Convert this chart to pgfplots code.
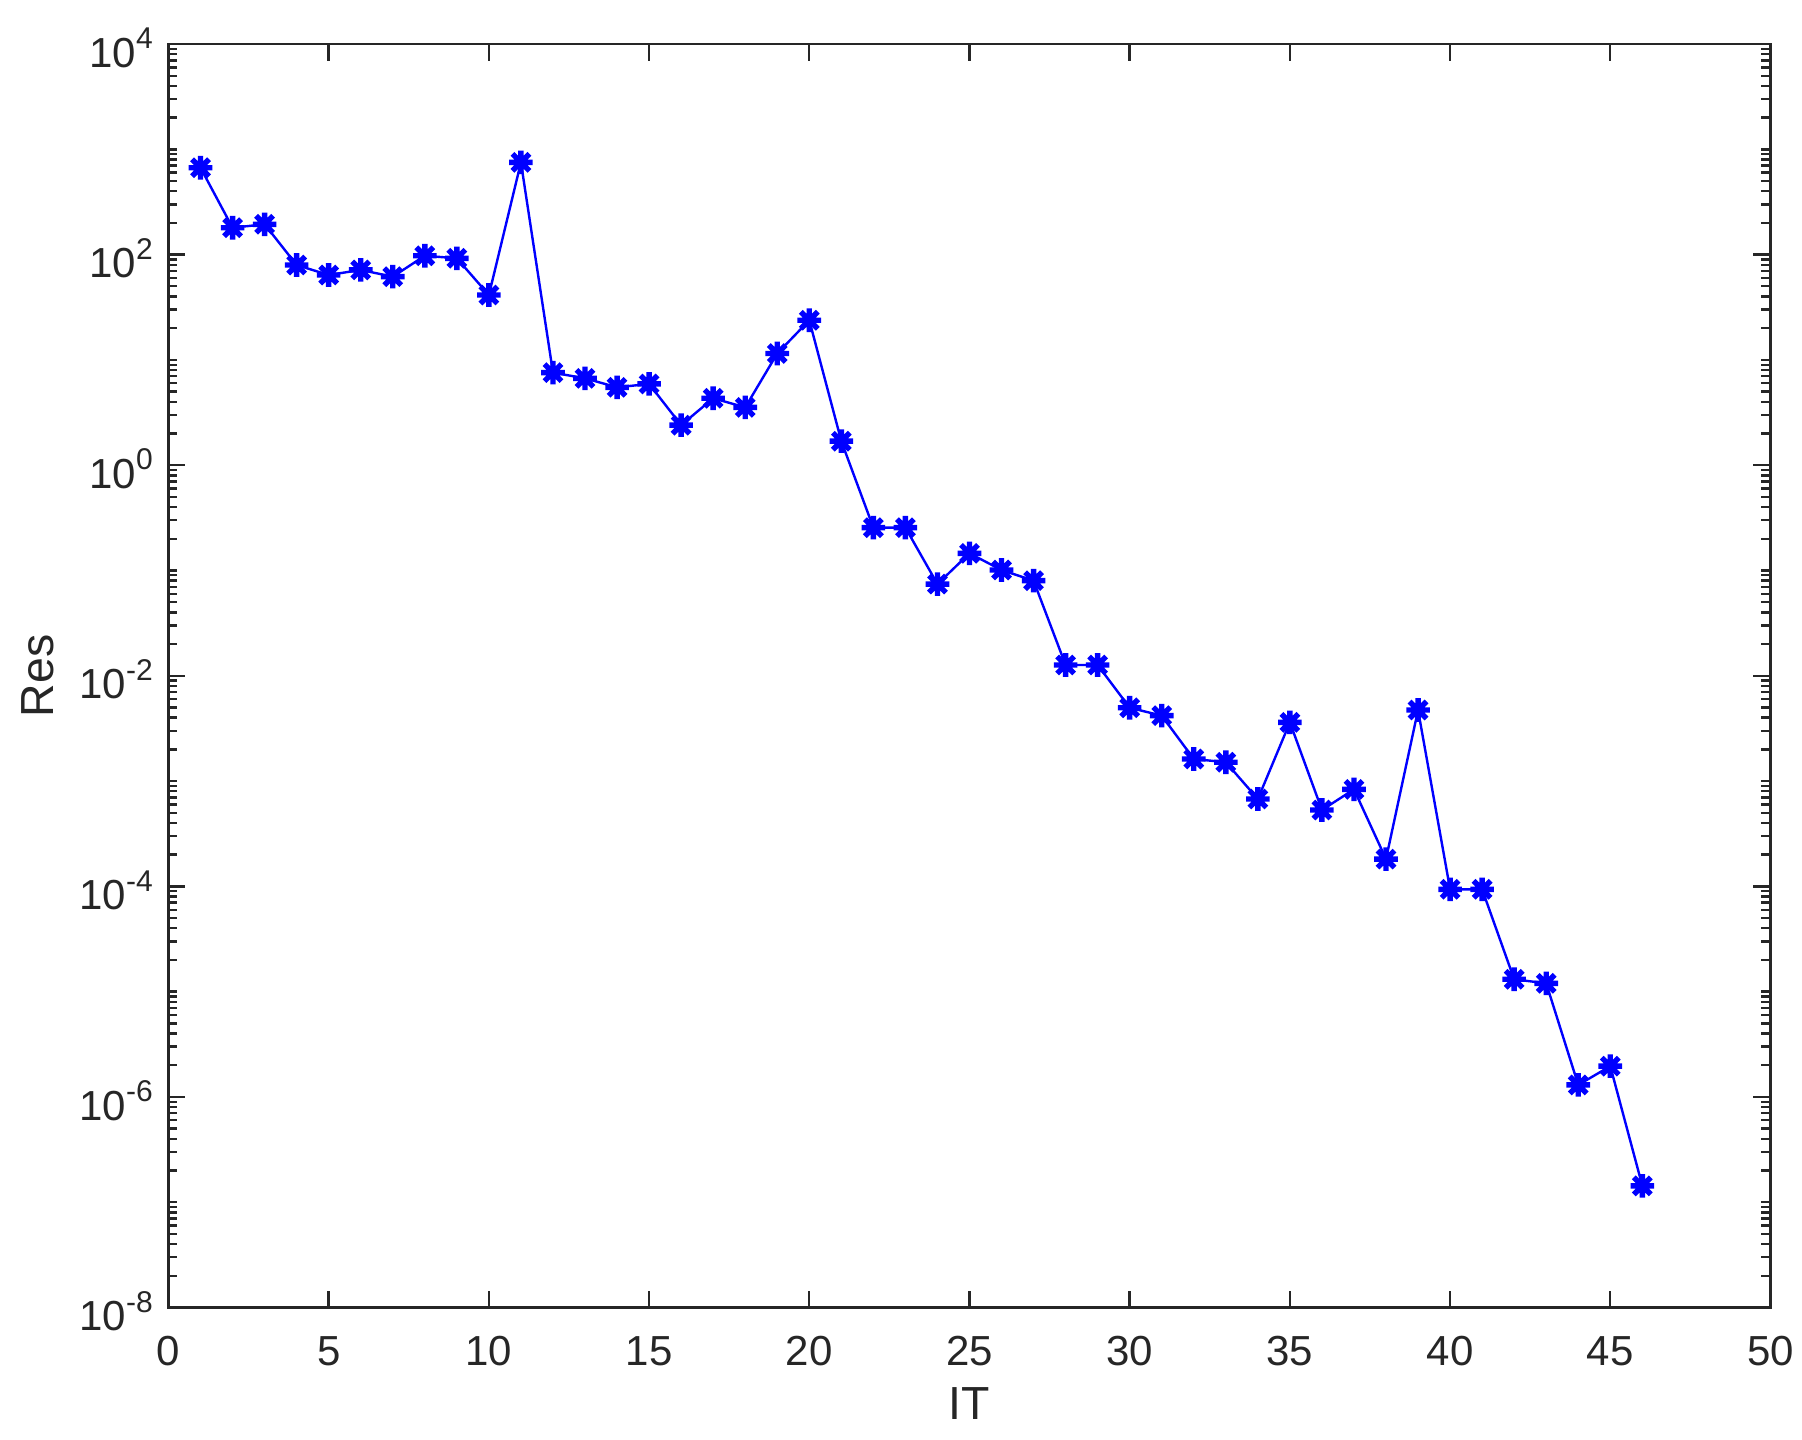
\documentclass[border=0pt]{standalone}
\usepackage{fontspec}
\setmainfont{Liberation Sans}
\usepackage{pgfplots}
\pgfplotsset{compat=1.18}
\definecolor{axgray}{HTML}{262626}
\newcommand{\tp}[1]{10\raisebox{4.6pt}{\fontsize{7.5}{8}\selectfont #1}}
\pgfdeclareplotmark{mstar}{%
  \pgfpathmoveto{\pgfqpoint{-\pgfplotmarksize}{0pt}}\pgfpathlineto{\pgfqpoint{\pgfplotmarksize}{0pt}}%
  \pgfpathmoveto{\pgfqpoint{0pt}{-\pgfplotmarksize}}\pgfpathlineto{\pgfqpoint{0pt}{\pgfplotmarksize}}%
  \pgfpathmoveto{\pgfqpoint{-0.72\pgfplotmarksize}{-0.72\pgfplotmarksize}}\pgfpathlineto{\pgfqpoint{0.72\pgfplotmarksize}{0.72\pgfplotmarksize}}%
  \pgfpathmoveto{\pgfqpoint{-0.72\pgfplotmarksize}{0.72\pgfplotmarksize}}\pgfpathlineto{\pgfqpoint{0.72\pgfplotmarksize}{-0.72\pgfplotmarksize}}%
  \pgfusepathqstroke}
\begin{document}
\begin{tikzpicture}
\useasboundingbox (-42.125pt,-32.875pt) rectangle (408.375pt,326.875pt);
\begin{axis}[
  at={(0,0)}, anchor=south west,
  scale only axis, width=400.5pt, height=315.875pt,
  ymode=log,
  xmin=0, xmax=50, ymin=1e-8, ymax=1e4,
  xtick={0,5,...,50},
  ytick={1e-8,1e-6,1e-4,1e-2,1,1e2,1e4},
  yticklabels={\tp{-8},\tp{-6},\tp{-4},\tp{-2},\tp{0},\tp{2},\tp{4}},
  minor ytick={2e-8,3e-8,4e-8,5e-8,6e-8,7e-8,8e-8,9e-8,
    1e-7,2e-7,3e-7,4e-7,5e-7,6e-7,7e-7,8e-7,9e-7,
    2e-6,3e-6,4e-6,5e-6,6e-6,7e-6,8e-6,9e-6,
    1e-5,2e-5,3e-5,4e-5,5e-5,6e-5,7e-5,8e-5,9e-5,
    2e-4,3e-4,4e-4,5e-4,6e-4,7e-4,8e-4,9e-4,
    1e-3,2e-3,3e-3,4e-3,5e-3,6e-3,7e-3,8e-3,9e-3,
    2e-2,3e-2,4e-2,5e-2,6e-2,7e-2,8e-2,9e-2,
    1e-1,2e-1,3e-1,4e-1,5e-1,6e-1,7e-1,8e-1,9e-1,
    2,3,4,5,6,7,8,9,
    10,20,30,40,50,60,70,80,90,
    200,300,400,500,600,700,800,900,
    1000,2000,3000,4000,5000,6000,7000,8000,9000},
  tick align=inside,
  xtick pos=both, ytick pos=both,
  major tick length=4.25pt,
  minor tick length=2.25pt,
  every tick/.style={axgray, line width=0.6pt},
  axis line style={axgray, line width=0.6pt},
  /pgf/number format/assume math mode=true,
  tick label style={font=\fontsize{10.5}{12}\selectfont, text=axgray},
  xticklabel style={anchor=base, yshift=-14.4pt},
  yticklabel style={anchor=base east, yshift=-5.8pt, xshift=-0.4pt},
  xlabel={IT}, ylabel={Res},
  label style={font=\fontsize{11.6}{13}\selectfont, text=axgray},
  xlabel style={at={(axis description cs:0.5,-0.089)}, anchor=base},
  ylabel style={at={(axis description cs:-0.0715,0.5)}, anchor=base, rotate=0},
]
\addplot[blue, line width=0.6pt, mark=mstar, mark size=2.95pt, mark options={solid, line width=1.35pt}] coordinates {
(1,668) (2,180) (3,194) (4,79.6) (5,64) (6,71.5) (7,61.7) (8,97.5) (9,92.2) (10,41.3)
(11,752) (12,7.57) (13,6.68) (14,5.49) (15,5.91) (16,2.40) (17,4.32) (18,3.54) (19,11.5) (20,23.8)
(21,1.69) (22,0.255) (23,0.255) (24,0.0743) (25,0.1455) (26,0.101) (27,0.080) (28,0.01265) (29,0.01265) (30,0.00497)
(31,0.00418) (32,0.00162) (33,0.00151) (34,0.000675) (35,0.00361) (36,0.000531) (37,0.000834) (38,0.0001816) (39,0.00473) (40,9.37e-5)
(41,9.37e-5) (42,1.31e-5) (43,1.20e-5) (44,1.30e-6) (45,1.96e-6) (46,1.43e-7)
};
\end{axis}
\end{tikzpicture}
\end{document}
